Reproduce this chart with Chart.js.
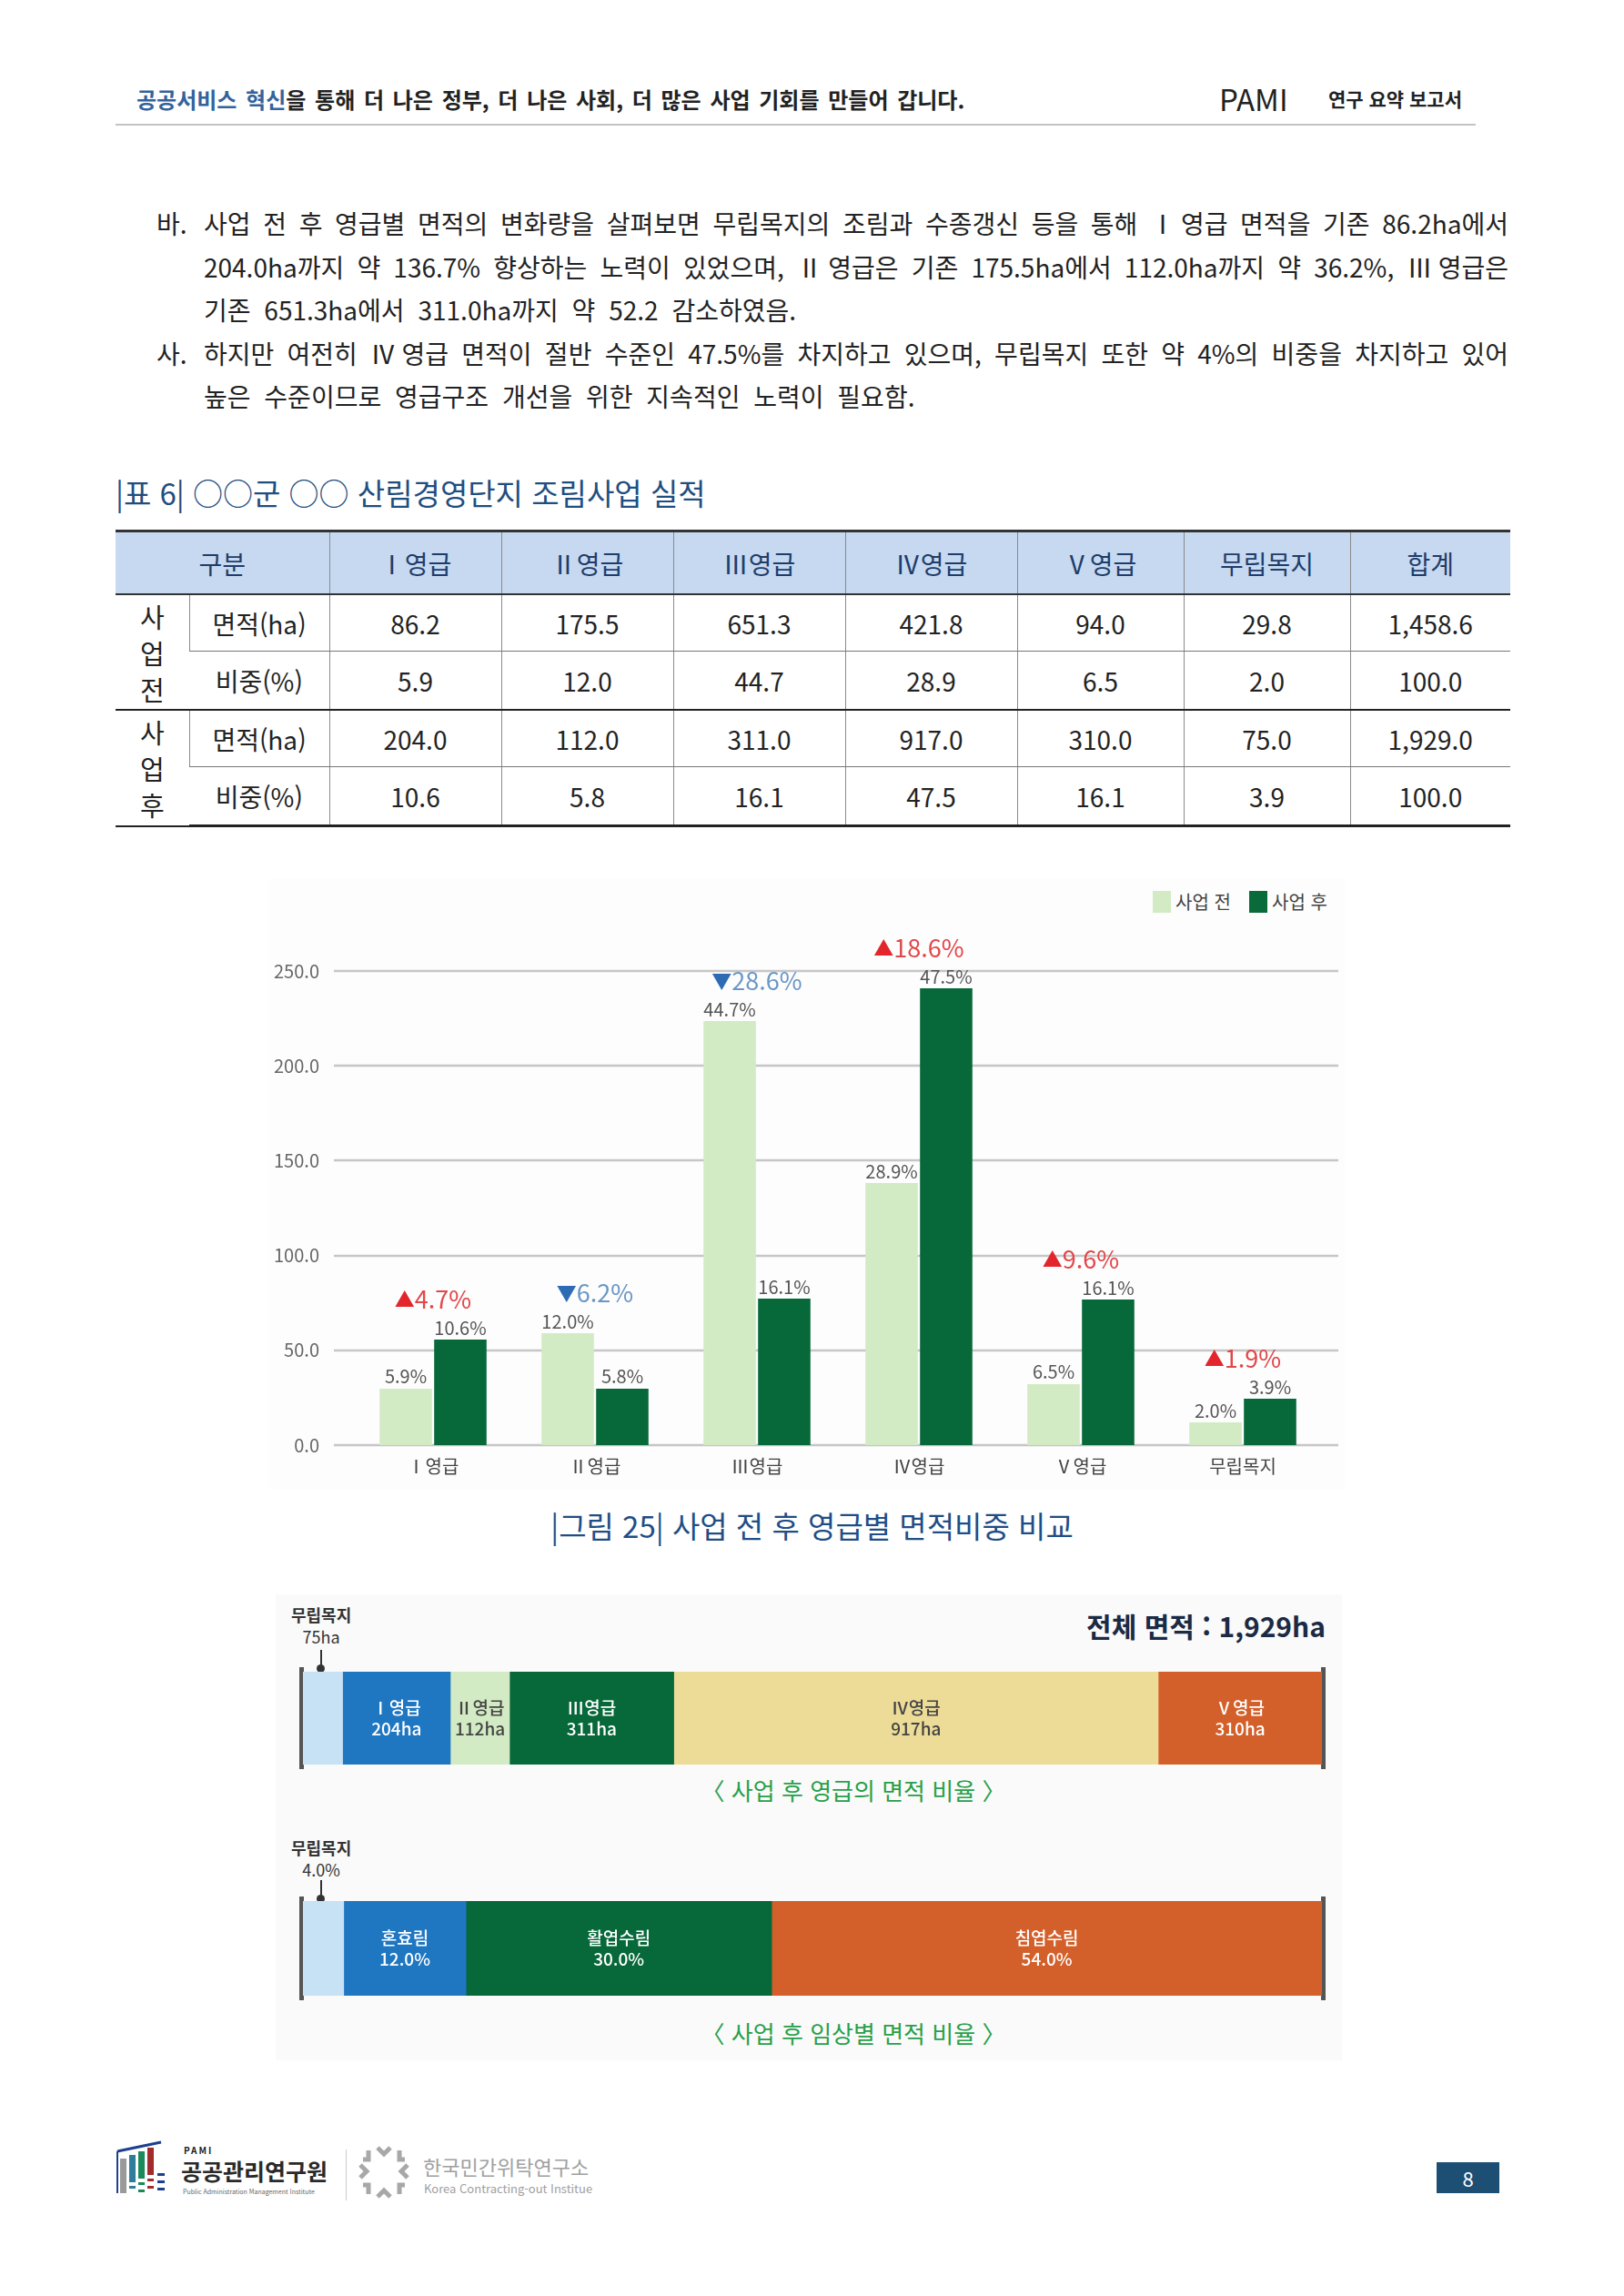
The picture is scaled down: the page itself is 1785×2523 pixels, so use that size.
<!DOCTYPE html>
<html lang="ko">
<head>
<meta charset="utf-8">
<title>산림경영단지 조림사업 실적</title>
<script src="https://cdn.jsdelivr.net/npm/chart.js@4.4.1/dist/chart.umd.min.js"></script>
<style>
  html, body { margin: 0; padding: 0; background: #fff; }
  body { width: 1785px; height: 2523px; position: relative; overflow: hidden;
         font-family: "Noto Sans CJK KR", "Noto Sans", sans-serif; color: #222; }
  .abs { position: absolute; white-space: nowrap; }
  .line { position: absolute; left: 224px; width: 1434px; height: 48px; line-height: 48px;
          font-size: 28px; white-space: nowrap; }
  .just { text-align: justify; text-align-last: justify; }
  .loose { word-spacing: 7px; }
  .mark { position: absolute; left: 172px; font-size: 28px; height: 48px; line-height: 48px; }
  table.grid { position: absolute; left: 127px; top: 582px; width: 1533px; border-collapse: collapse;
               table-layout: fixed; font-size: 28px; }
  table.grid td, table.grid th { text-align: center; padding: 0; border-left: 1px solid #8a8a8a; }
  table.grid th { background: #c6d9f0; color: #1f3d6b; font-weight: 400; height: 67px;
                  border-top: 3px solid #333; border-bottom: 2px solid #333; }
  table.grid tr > :first-child { border-left: none; }
  table.grid td.side { line-height: 40px; font-size: 29px; }
  table.grid tr.r1 td { height: 61px; border-bottom: 1.5px solid #777; }
  table.grid tr.r2 td { height: 63px; border-bottom: 2.5px solid #222; }
  table.grid tr.r3 td { height: 61px; border-bottom: 1.5px solid #777; }
  table.grid tr.r4 td { height: 63px; border-bottom: 3px solid #222; }
  table.grid td.side { border-bottom: 2.5px solid #222 !important; }
  .cap-green { color: #27a04a; font-size: 26px; }
</style>
</head>
<body>

<!-- header -->
<div class="abs" style="left:150px;top:92px;font-size:24px;font-weight:700;line-height:34px;word-spacing:3px;">
  <span style="color:#33639c">공공서비스 혁신</span>을 통해 더 나은 정부, 더 나은 사회, 더 많은 사업 기회를 만들어 갑니다.
</div>
<div class="abs" style="left:1340px;top:86px;font-size:33px;line-height:44px;">PAMI</div>
<div class="abs" style="left:1460px;top:93px;font-size:21px;font-weight:700;line-height:30px;">연구 요약 보고서</div>
<div class="abs" style="left:127px;top:136px;width:1495px;height:2px;background:#c3c3c3;"></div>

<!-- paragraphs -->
<div class="mark" style="top:221px;">바.</div>
<div class="line just" style="top:221px;">사업 전 후 영급별 면적의 변화량을 살펴보면 무립목지의 조림과 수종갱신 등을 통해 Ⅰ영급 면적을 기존 86.2ha에서</div>
<div class="line just" style="top:269px;">204.0ha까지 약 136.7% 향상하는 노력이 있었으며, Ⅱ영급은 기존 175.5ha에서 112.0ha까지 약 36.2%, Ⅲ영급은</div>
<div class="line loose" style="top:316px;">기존 651.3ha에서 311.0ha까지 약 52.2 감소하였음.</div>
<div class="mark" style="top:364px;">사.</div>
<div class="line just" style="top:364px;">하지만 여전히 Ⅳ영급 면적이 절반 수준인 47.5%를 차지하고 있으며, 무립목지 또한 약 4%의 비중을 차지하고 있어</div>
<div class="line loose" style="top:411px;">높은 수준이므로 영급구조 개선을 위한 지속적인 노력이 필요함.</div>

<!-- table -->
<div class="abs" style="left:127px;top:519px;font-size:33px;line-height:44px;color:#1f4e80;">|표 6| ○○군 ○○ 산림경영단지 조림사업 실적</div>
<table class="grid">
  <colgroup>
    <col style="width:81px"><col style="width:154px"><col style="width:189px"><col style="width:189px">
    <col style="width:189px"><col style="width:189px"><col style="width:183px"><col style="width:183px"><col style="width:176px">
  </colgroup>
  <thead>
    <tr><th colspan="2">구분</th><th>Ⅰ영급</th><th>Ⅱ영급</th><th>Ⅲ영급</th><th>Ⅳ영급</th><th>Ⅴ영급</th><th>무립목지</th><th>합계</th></tr>
  </thead>
  <tbody id="tbody"></tbody>
</table>

<!-- bar chart -->
<div class="abs" style="left:295px;top:966px;width:1183px;height:670px;background:#fdfdfd;"></div>
<div class="abs" style="left:1267px;top:979px;width:20px;height:24px;background:#d3ebc4;"></div>
<div class="abs" style="left:1292px;top:975px;font-size:20px;line-height:32px;color:#444;">사업 전</div>
<div class="abs" style="left:1373px;top:979px;width:20px;height:24px;background:#0a6b3a;"></div>
<div class="abs" style="left:1398px;top:975px;font-size:20px;line-height:32px;color:#444;">사업 후</div>
<canvas id="barChart" width="1200" height="680" style="position:absolute;left:290px;top:960px;"></canvas>
<div class="abs" style="left:0;width:1785px;top:1654px;text-align:center;font-size:33px;line-height:44px;color:#1f4e86;">|그림 25| 사업 전 후 영급별 면적비중 비교</div>

<!-- stacked bars -->
<div class="abs" style="left:303px;top:1752px;width:1172px;height:512px;background:#fafafa;"></div>

<div class="abs" style="left:320px;top:1762px;font-size:18px;line-height:24px;font-weight:700;color:#333;text-align:center;">무립목지<br><span style="font-weight:400">75ha</span></div>
<div class="abs" style="left:352px;top:1813px;width:2px;height:20px;background:#333;"></div>
<div class="abs" style="left:348px;top:1829px;width:9px;height:9px;border-radius:50%;background:#333;"></div>
<div class="abs" style="right:328px;top:1766px;font-size:30px;font-weight:700;line-height:40px;color:#1b2a45;">전체 면적 : 1,929ha</div>
<div class="abs" style="left:329px;top:1832px;width:5px;height:112px;background:#555;"></div>
<div class="abs" style="left:1452px;top:1832px;width:5px;height:112px;background:#555;"></div>
<canvas id="gradeBar" width="1120" height="102" style="position:absolute;left:333px;top:1837px;"></canvas>
<div class="abs cap-green" style="left:0;width:1876px;top:1949px;text-align:center;line-height:36px;">〈 사업 후 영급의 면적 비율 〉</div>

<div class="abs" style="left:320px;top:2018px;font-size:18px;line-height:24px;font-weight:700;color:#333;text-align:center;">무립목지<br><span style="font-weight:400">4.0%</span></div>
<div class="abs" style="left:352px;top:2066px;width:2px;height:20px;background:#333;"></div>
<div class="abs" style="left:348px;top:2082px;width:9px;height:9px;border-radius:50%;background:#333;"></div>
<div class="abs" style="left:329px;top:2084px;width:5px;height:114px;background:#555;"></div>
<div class="abs" style="left:1452px;top:2084px;width:5px;height:114px;background:#555;"></div>
<canvas id="standBar" width="1120" height="104" style="position:absolute;left:333px;top:2089px;"></canvas>
<div class="abs cap-green" style="left:0;width:1876px;top:2216px;text-align:center;line-height:36px;">〈 사업 후 임상별 면적 비율 〉</div>

<!-- footer -->
<svg class="abs" style="left:127px;top:2352px;" width="58" height="60" viewBox="0 0 58 60">
  <path d="M2 12 L50 2" stroke="#1d3f8f" stroke-width="3" fill="none"/>
  <path d="M2 12 L2 58" stroke="#1d3f8f" stroke-width="2" fill="none"/>
  <rect x="5" y="20" width="7" height="38" fill="#9a9a9a"/>
  <rect x="15" y="16" width="7" height="30" fill="#2f7d9a"/>
  <rect x="25" y="12" width="7" height="30" fill="#1b8a5a"/>
  <rect x="35" y="8" width="7" height="30" fill="#a02c2c"/>
  <rect x="15" y="50" width="7" height="3" fill="#2f7d9a"/><rect x="25" y="46" width="7" height="3" fill="#1b8a5a"/>
  <rect x="35" y="42" width="7" height="3" fill="#a02c2c"/><rect x="46" y="36" width="8" height="3" fill="#1d3f8f"/>
  <rect x="46" y="44" width="8" height="3" fill="#1d3f8f"/><rect x="46" y="52" width="8" height="3" fill="#1d3f8f"/>
  <rect x="25" y="54" width="7" height="3" fill="#1b8a5a"/><rect x="35" y="50" width="7" height="3" fill="#a02c2c"/>
</svg>
<div class="abs" style="left:202px;top:2356px;font-size:10px;font-weight:700;letter-spacing:2px;line-height:14px;">PAMI</div>
<div class="abs" style="left:199px;top:2368px;font-size:25px;font-weight:700;line-height:34px;color:#2a2a2a;">공공관리연구원</div>
<div class="abs" style="left:201px;top:2403px;font-size:7px;line-height:10px;color:#666;">Public Administration Management Institute</div>
<div class="abs" style="left:380px;top:2362px;width:1px;height:56px;background:#ccc;"></div>
<svg class="abs" style="left:393px;top:2357px;" width="58" height="60" viewBox="0 0 58 60">
  <g fill="none" stroke="#a8a8a8" stroke-width="5">
    <path d="M22 3 L29 10 L36 3"/><path d="M22 57 L29 50 L36 57"/>
    <path d="M3 22 L10 29 L3 36"/><path d="M55 22 L48 29 L55 36"/>
    <path d="M12 6 L12 16 L6 16"/><path d="M46 6 L46 16 L52 16"/>
    <path d="M12 54 L12 44 L6 44"/><path d="M46 54 L46 44 L52 44"/>
  </g>
</svg>
<div class="abs" style="left:465px;top:2364px;font-size:22px;line-height:32px;color:#a0a0a0;">한국민간위탁연구소</div>
<div class="abs" style="left:466px;top:2396px;font-size:13px;line-height:18px;color:#a0a0a0;">Korea Contracting-out Institue</div>
<div class="abs" style="left:1579px;top:2376px;width:69px;height:34px;background:#1d4e73;color:#fff;font-size:22px;line-height:34px;text-align:center;">8</div>

<script>
// table data
const tableCols = ['Ⅰ영급', 'Ⅱ영급', 'Ⅲ영급', 'Ⅳ영급', 'Ⅴ영급', '무립목지', '합계'];
const beforeArea = ['86.2', '175.5', '651.3', '421.8', '94.0', '29.8', '1,458.6'];
const beforeShare = ['5.9', '12.0', '44.7', '28.9', '6.5', '2.0', '100.0'];
const afterArea = ['204.0', '112.0', '311.0', '917.0', '310.0', '75.0', '1,929.0'];
const afterShare = ['10.6', '5.8', '16.1', '47.5', '16.1', '3.9', '100.0'];

// bar chart data (heights)
const categories = ['Ⅰ영급', 'Ⅱ영급', 'Ⅲ영급', 'Ⅳ영급', 'Ⅴ영급', '무립목지'];
const beforeValues = [29.8, 59.0, 223.6, 138.2, 32.2, 12.0];
const afterValues = [55.7, 29.8, 77.3, 240.9, 76.8, 24.5];
const beforeLabels = ['5.9%', '12.0%', '44.7%', '28.9%', '6.5%', '2.0%'];
const afterLabels = ['10.6%', '5.8%', '16.1%', '47.5%', '16.1%', '3.9%'];
const changeUp = [true, false, false, true, true, true];
const changeText = ['4.7%', '6.2%', '28.6%', '18.6%', '9.6%', '1.9%'];
const yTicks = [0, 50, 100, 150, 200, 250];

// stacked bars
const gradeNames = ['무립목지', 'Ⅰ영급', 'Ⅱ영급', 'Ⅲ영급', 'Ⅳ영급', 'Ⅴ영급'];
const gradeArea = [75, 204, 112, 311, 917, 310];
const standNames = ['무립목지', '혼효림', '활엽수림', '침엽수림'];
const standShare = [4.0, 12.0, 30.0, 54.0];

const gradeColors = ['#c7e1f5', '#1f77c1', '#d3ebc4', '#07683a', '#ecdc98', '#d3602a'];
const gradeText = ['#333', '#fff', '#444', '#fff', '#444', '#fff'];
const standColors = ['#c7e1f5', '#1f77c1', '#07683a', '#d3602a'];
const standText = ['#333', '#fff', '#fff', '#fff'];

const FONT = "'Noto Sans CJK KR', 'Noto Sans', sans-serif";
Chart.defaults.font.family = FONT;

// build table body
const tbody = document.getElementById('tbody');
function addRow(cls, side, name, vals) {
  let html = '<tr class="' + cls + '">';
  if (side) html += '<td class="side" rowspan="2">' + side + '</td>';
  html += '<td>' + name + '</td>';
  vals.forEach(v => { html += '<td>' + v + '</td>'; });
  tbody.insertAdjacentHTML('beforeend', html + '</tr>');
}
addRow('r1', '사<br>업<br>전', '면적(ha)', beforeArea);
addRow('r2', null, '비중(%)', beforeShare);
addRow('r3', '사<br>업<br>후', '면적(ha)', afterArea);
addRow('r4', null, '비중(%)', afterShare);

// gridlines wider than the plot area
const wideGrid = {
  id: 'wideGrid',
  beforeDatasetsDraw(chart) {
    const ctx = chart.ctx, y = chart.scales.y;
    ctx.save();
    ctx.strokeStyle = '#c6c6c6';
    ctx.lineWidth = 2.5;
    yTicks.forEach(v => {
      const py = Math.round(y.getPixelForValue(v));
      ctx.beginPath();
      ctx.moveTo(77, py);
      ctx.lineTo(1181, py);
      ctx.stroke();
    });
    ctx.restore();
  }
};

// value labels and change markers
const barLabels = {
  id: 'barLabels',
  afterDatasetsDraw(chart) {
    const ctx = chart.ctx;
    const m0 = chart.getDatasetMeta(0), m1 = chart.getDatasetMeta(1);
    const texts = [beforeLabels, afterLabels];
    ctx.save();
    ctx.font = '20px ' + FONT;
    ctx.fillStyle = '#555';
    ctx.textAlign = 'center';
    ctx.textBaseline = 'bottom';
    [m0, m1].forEach((m, d) => {
      m.data.forEach((el, i) => ctx.fillText(texts[d][i], el.x, el.y - 3));
    });

    ctx.textAlign = 'left';
    ctx.textBaseline = 'middle';
    categories.forEach((c, i) => {
      const top = Math.min(m0.data[i].y, m1.data[i].y);
      const cx = chart.scales.x.getPixelForValue(i);
      const cy = top - 44;
      const tri = changeUp[i] ? '▲' : '▼';
      ctx.font = '22px ' + FONT;
      const tw = ctx.measureText(tri).width;
      ctx.font = '27px ' + FONT;
      const nw = ctx.measureText(changeText[i]).width;
      const x0 = cx - (tw + nw) / 2;
      ctx.font = '22px ' + FONT;
      ctx.fillStyle = changeUp[i] ? '#e3262b' : '#2d6cb5';
      ctx.fillText(tri, x0, cy);
      ctx.font = '27px ' + FONT;
      ctx.fillStyle = changeUp[i] ? '#e2474a' : '#6a97c6';
      ctx.fillText(changeText[i], x0 + tw, cy);
    });
    ctx.restore();
  }
};

new Chart(document.getElementById('barChart'), {
  type: 'bar',
  data: {
    labels: categories,
    datasets: [
      { label: '사업 전', data: beforeValues, backgroundColor: '#d3ebc4' },
      { label: '사업 후', data: afterValues, backgroundColor: '#07693a' }
    ]
  },
  options: {
    responsive: false,
    animation: false,
    devicePixelRatio: 1,
    categoryPercentage: 0.674,
    barPercentage: 0.96,
    layout: { padding: { left: 0, right: 35, top: 107, bottom: 0 } },
    plugins: { legend: { display: false }, tooltip: { enabled: false } },
    scales: {
      x: {
        grid: { display: false },
        border: { display: false },
        ticks: { color: '#444', font: { size: 20 }, padding: 3 },
        afterFit(s) { s.height = 52; }
      },
      y: {
        min: 0,
        max: 250,
        afterBuildTicks(s) { s.ticks = yTicks.map(v => ({ value: v })); },
        grid: { display: false },
        border: { display: false },
        ticks: { color: '#666', font: { size: 20 }, padding: 28, callback: v => v.toFixed(1) },
        afterFit(s) { s.width = 97; }
      }
    }
  },
  plugins: [wideGrid, barLabels]
});

// labels inside stacked segments
function segmentLabels(names, values, colors, unit, fixed) {
  return {
    id: 'segLabels',
    afterDatasetsDraw(chart) {
      const ctx = chart.ctx;
      ctx.save();
      ctx.textAlign = 'center';
      ctx.textBaseline = 'middle';
      ctx.font = '500 19px ' + FONT;
      names.forEach((n, i) => {
        if (i === 0) return;
        const el = chart.getDatasetMeta(i).data[0];
        const cx = (el.x + el.base) / 2;
        const cy = el.y;
        ctx.fillStyle = colors[i];
        ctx.fillText(n, cx, cy - 11);
        ctx.fillText(values[i].toFixed(fixed) + unit, cx, cy + 12);
      });
      ctx.restore();
    }
  };
}

function stackedBar(id, names, values, colors, textColors, unit, fixed) {
  const total = values.reduce((a, b) => a + b, 0);
  new Chart(document.getElementById(id), {
    type: 'bar',
    data: {
      labels: [''],
      datasets: names.map((n, i) => ({ label: n, data: [values[i]], backgroundColor: colors[i] }))
    },
    options: {
      indexAxis: 'y',
      responsive: false,
      animation: false,
      devicePixelRatio: 1,
      barPercentage: 1,
      categoryPercentage: 1,
      layout: { padding: 0 },
      plugins: { legend: { display: false }, tooltip: { enabled: false } },
      scales: {
        x: { stacked: true, display: false, min: 0, max: total },
        y: { stacked: true, display: false }
      }
    },
    plugins: [segmentLabels(names, values, textColors, unit, fixed)]
  });
}

stackedBar('gradeBar', gradeNames, gradeArea, gradeColors, gradeText, 'ha', 0);
stackedBar('standBar', standNames, standShare, standColors, standText, '%', 1);
</script>
</body>
</html>
